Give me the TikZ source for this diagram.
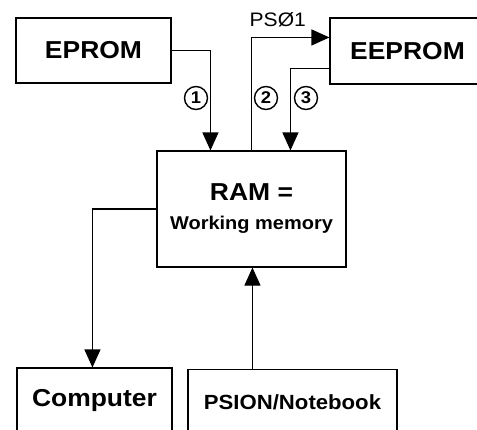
\documentclass[tikz,border=0pt]{standalone}
\usepackage{fontspec}
\setmainfont{Liberation Sans}[FakeStretch=1.08]
\usetikzlibrary{arrows.meta,calc}
\begin{document}
\begin{tikzpicture}[x=1pt,y=-1pt,
  box/.style={draw,line width=1.1pt,inner sep=0pt,font=\bfseries\fontsize{24.5}{28}\selectfont},
  arr/.style={line width=1.1pt,-{Triangle[length=18pt,width=16pt]}},
  num/.style={circle,draw,line width=1.4pt,inner sep=0pt,minimum size=23pt,font=\bfseries\fontsize{17}{17}\selectfont}]
\useasboundingbox (0,0) rectangle (477,429);
\node[box,minimum width=155pt,minimum height=65pt] (eprom) at (93.5,50.5) {EPROM};
\node[box,minimum width=155pt,minimum height=66pt] (eeprom) at (407.5,51) {EEPROM};
\node[box,minimum width=189pt,minimum height=116pt,align=center] (ram) at (251.5,209)
  {RAM =\\[1pt]{\fontsize{18.5}{22}\selectfont Working memory}};
\node[box,minimum width=155pt,minimum height=65pt] (computer) at (94.5,400.5) {Computer};
\node[box,minimum width=209pt,minimum height=65pt,font=\bfseries\fontsize{20.5}{24}\selectfont] (psion) at (292.5,402) {PSION/Notebook};
\node[anchor=base west,inner sep=0pt,font=\fontsize{19.5}{22}\selectfont] (ps) at (249.5,26.7) {PSØ1};
\node[num] (n1) at (196,98) {1};
\node[num] (n2) at (266,98) {2};
\node[num] (n3) at (306,98) {3};
\draw[arr] (eprom.east) -| ($(ram.north west)+(54,0)$);
\draw[arr] (ram.north) |- ($(eeprom.north west)+(0,20)$);
\draw[arr] ($(eeprom.north west)+(0,51)$) -| ($(ram.north west)+(134,0)$);
\draw[arr] (ram.west) -| ($(computer.north west)+(76,0)$);
\draw[arr] ($(psion.north west)+(65,0)$) -- ($(ram.south west)+(96,0)$);
\end{tikzpicture}
\end{document}
